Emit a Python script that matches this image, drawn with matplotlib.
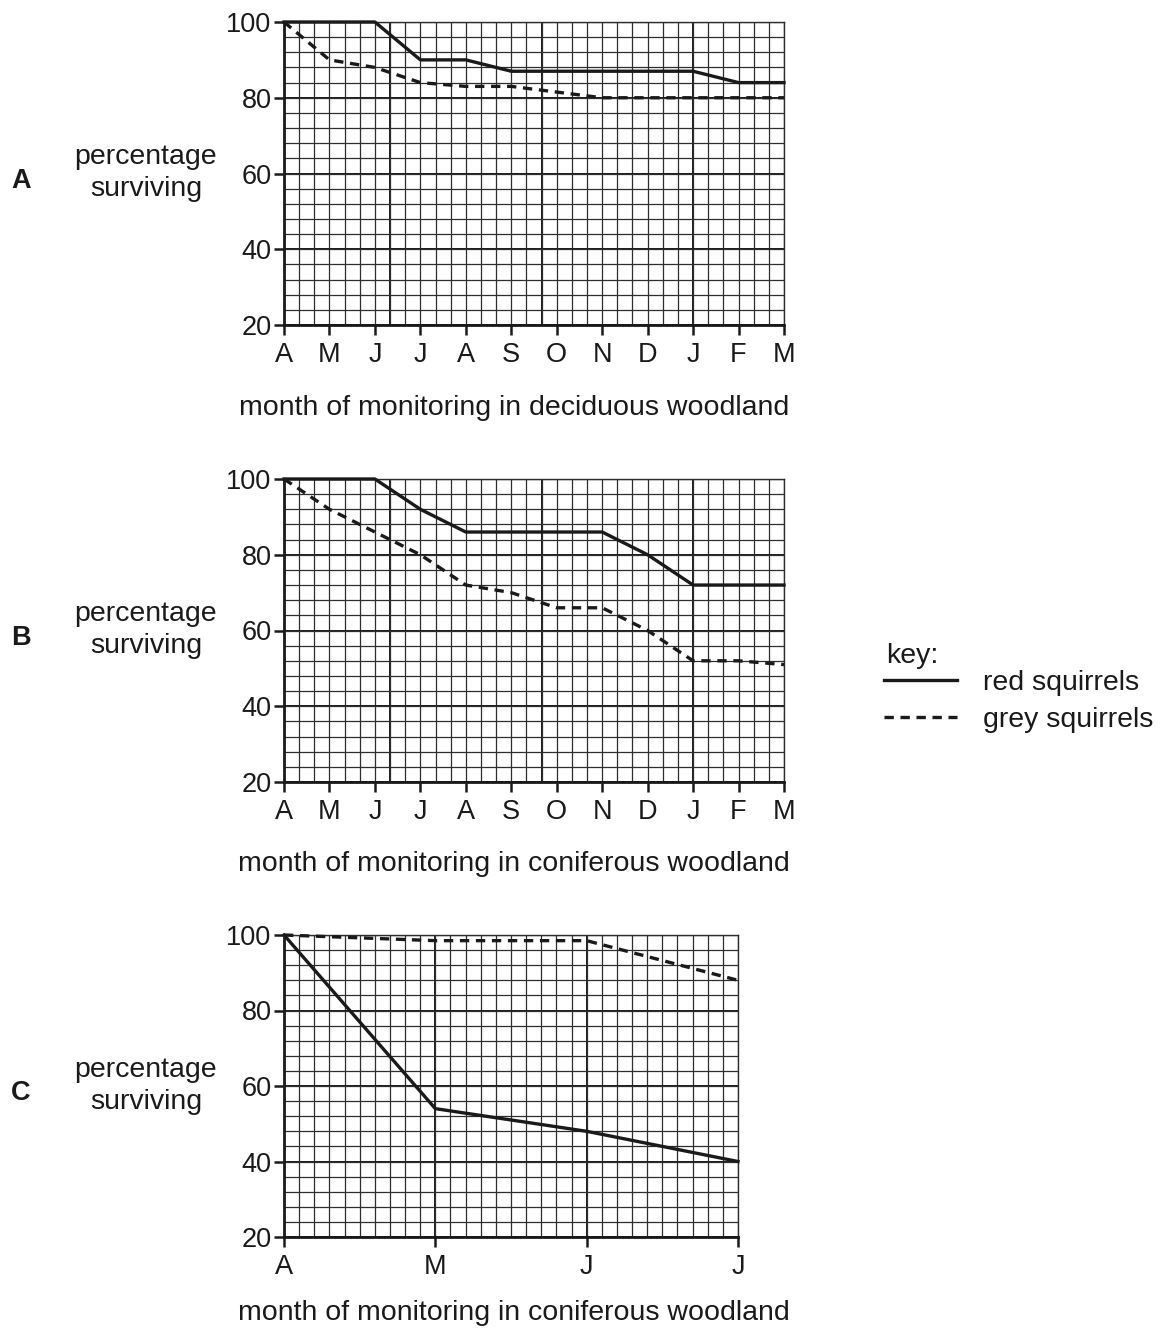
import numpy as np
import matplotlib
matplotlib.use('Agg')
import matplotlib.pyplot as plt
from matplotlib.ticker import MultipleLocator

plt.rcParams['font.family'] = ['Liberation Sans', 'DejaVu Sans']

# months along each x axis
months_year = ['A', 'M', 'J', 'J', 'A', 'S', 'O', 'N', 'D', 'J', 'F', 'M']
months_c = ['A', 'M', 'J', 'J']

# percentage surviving
red_a = [100, 100, 100, 90, 90, 87, 87, 87, 87, 87, 84, 84]
grey_a = [100, 90, 88, 84, 83, 83, 81.5, 80, 80, 80, 80, 80]
red_b = [100, 100, 100, 92, 86, 86, 86, 86, 80, 72, 72, 72]
grey_b = [100, 92, 86, 80, 72, 70, 66, 66, 60, 52, 52, 51]
red_c = [100, 54, 48, 40]
grey_c = [100, 98.5, 98.5, 88]

yticks = [20, 40, 60, 80, 100]
W, H = 1167, 1329

fig = plt.figure(figsize=(W / 100, H / 100), dpi=100)

dash = (0, (2.8, 2.0))
ink = '#1a1a1a'


def panel(left, right, top, bottom, labels, red, grey, cells_per_month, thick_x,
          letter, xlabel, xlabel_y):
    ax = fig.add_axes([left / W, 1 - bottom / H, (right - left) / W, (bottom - top) / H])
    x = np.arange(len(labels))
    ax.set_xlim(0, len(labels) - 1)
    ax.set_ylim(20, 100)

    # graph paper
    ax.xaxis.remove_overlapping_locs = False
    ax.yaxis.remove_overlapping_locs = False
    ax.xaxis.set_minor_locator(MultipleLocator(1 / cells_per_month))
    ax.yaxis.set_minor_locator(MultipleLocator(4))
    ax.grid(which='minor', color='#2e2e2e', lw=0.9, zorder=0)
    ax.grid(which='major', axis='y', color=ink, lw=1.4, zorder=0)
    for xv in thick_x:
        ax.axvline(xv, color=ink, lw=1.4, zorder=0)
    ax.set_axisbelow(True)

    red_line, = ax.plot(x, red, color=ink, lw=2.4, clip_on=False, zorder=3,
                        label='red squirrels')
    grey_line, = ax.plot(x, grey, color=ink, lw=2.4, ls=dash, clip_on=False, zorder=3,
                         label='grey squirrels')

    ax.set_xticks(x)
    ax.set_xticklabels(labels)
    ax.set_yticks(yticks)
    ax.tick_params(which='major', length=7, width=1.8, color=ink, labelsize=19.5,
                   labelcolor=ink, pad=2)
    ax.tick_params(axis='x', which='major', pad=5)
    ax.tick_params(which='minor', length=0)

    for s in ['left', 'bottom']:
        ax.spines[s].set_linewidth(2.0)
        ax.spines[s].set_color(ink)
    for s in ['top', 'right']:
        ax.spines[s].set_linewidth(1.0)
        ax.spines[s].set_color('#2e2e2e')

    mid = (top + bottom) / 2
    fig.text(21 / W, 1 - (mid + 7) / H, letter, fontsize=19.5, fontweight='bold',
             ha='center', va='center', color=ink)
    fig.text(146 / W, 1 - mid / H, 'percentage\nsurviving', fontsize=20.5,
             ha='center', va='center', color=ink, linespacing=1.3)
    fig.text(514 / W, 1 - xlabel_y / H, xlabel, fontsize=20.5,
             ha='center', va='center', color=ink)
    return red_line, grey_line


panel(284, 784, 22, 325, months_year, red_a, grey_a, 3, [7 / 3, 17 / 3, 27 / 3],
      'A', 'month of monitoring in deciduous woodland', 408)
handles = panel(284, 784, 479, 782, months_year, red_b, grey_b, 3, [7 / 3, 17 / 3, 27 / 3],
                'B', 'month of monitoring in coniferous woodland', 864)
panel(284, 738, 935, 1237, months_c, red_c, grey_c, 10, [1, 2],
      'C', 'month of monitoring in coniferous woodland', 1313)

fig.text(886 / W, 1 - 656 / H, 'key:', fontsize=20.5, ha='left', va='center', color=ink)
leg = fig.legend(handles=list(handles), loc='upper left',
                 bbox_to_anchor=(884 / W, 1 - 670 / H), frameon=False,
                 fontsize=20.5, handlelength=2.55,
                 handletextpad=0.92, labelspacing=0.38, borderpad=0,
                 borderaxespad=0)
for t in leg.get_texts():
    t.set_color(ink)

fig.savefig('out.png', dpi=100)
